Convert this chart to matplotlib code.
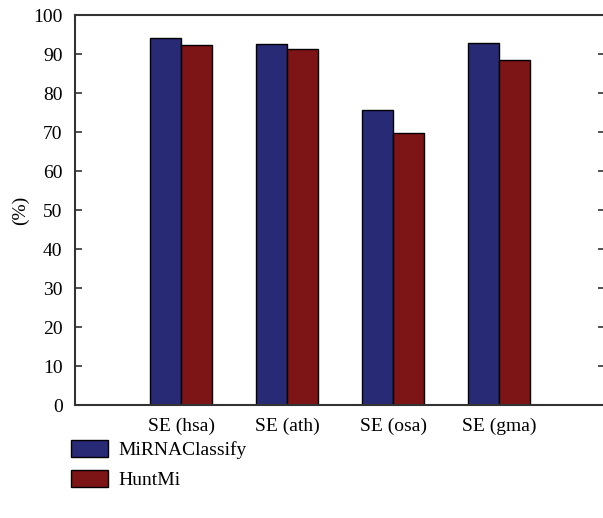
import matplotlib
matplotlib.use("Agg")
import matplotlib.pyplot as plt
import numpy as np

# ── Data ───────────────────────────────────────────────────────────────────────
categories = ["SE (hsa)", "SE (ath)", "SE (osa)", "SE (gma)"]
mirnaclassify = [94.0, 92.6, 75.7, 92.8]
huntmi = [92.2, 91.3, 69.8, 88.5]
yticks = list(range(0, 101, 10))

plt.rcParams["font.family"] = ["Liberation Serif", "DejaVu Serif"]

fig = plt.figure(figsize=(6.03, 5.18), dpi=100)
ax = fig.add_axes([0.1244, 0.2181, 0.879, 0.7529])

x = np.arange(1, len(categories) + 1)
w = 0.295
ax.bar(x - w / 2, mirnaclassify, w, color="#282a75", edgecolor="black",
       linewidth=1.0, label="MiRNAClassify")
ax.bar(x + w / 2, huntmi, w, color="#7d1416", edgecolor="black",
       linewidth=1.0, label="HuntMi")

ax.set_xlim(0, 5)
ax.set_ylim(0, 100)
ax.set_xticks(x)
ax.set_xticklabels(categories, fontsize=14)
ax.set_yticks(yticks)
ax.tick_params(axis="y", direction="in", length=5, width=1.2, labelsize=14,
               right=True, color="#333333", pad=9)
ax.tick_params(axis="x", length=0, labelsize=14, pad=9)
for spine in ax.spines.values():
    spine.set_color("#333333")
    spine.set_linewidth(1.5)

ax.set_ylabel("(%)", fontsize=14, labelpad=3)

fig.legend(loc="upper left", bbox_to_anchor=(0.105, 0.166), frameon=False,
           fontsize=14, handlelength=1.9, handleheight=1.0, labelspacing=0.55,
           handletextpad=0.55, borderaxespad=0)

fig.savefig("out.png", dpi=100)
